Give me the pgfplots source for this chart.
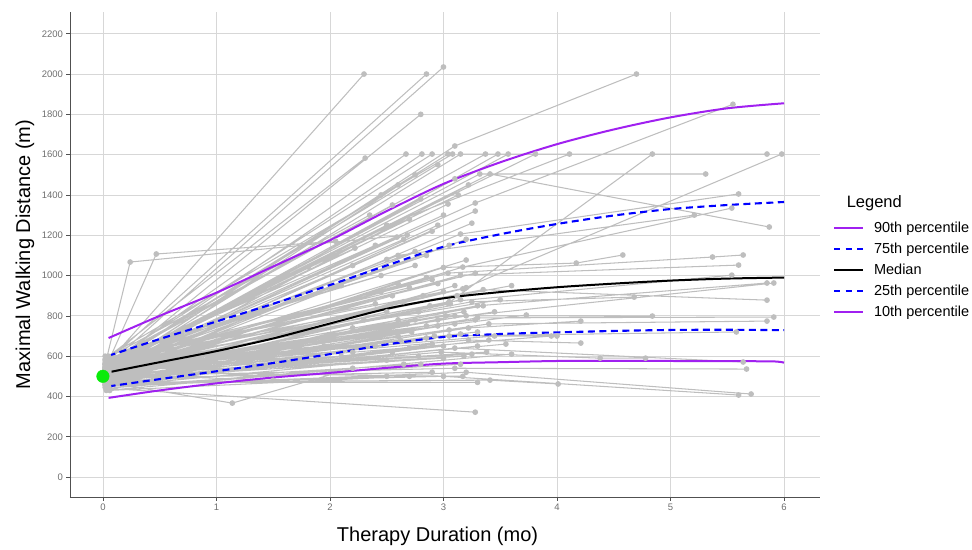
\documentclass[border=0pt]{standalone}
\usepackage{fontspec}
\setmainfont{Liberation Sans}
\usepackage{pgfplots}
\pgfplotsset{compat=1.18}
\usepackage{pgfplotstable}
\definecolor{spag}{RGB}{190,190,190}
\definecolor{gridc}{RGB}{215,215,215}
\definecolor{pctpurple}{RGB}{160,32,240}
\definecolor{ticklab}{RGB}{110,110,110}
\definecolor{axisline}{RGB}{80,80,80}
\definecolor{startgreen}{RGB}{10,235,10}

\pgfplotstableread{
x y
0.03 560
2.30 2000
nan nan
0.05 580
2.85 2000
nan nan
0.02 545
3.00 2035
nan nan
0.04 540
2.80 1800
nan nan
0.03 590
2.31 1583
nan nan
0.05 560
2.67 1603
nan nan
0.02 530
2.81 1603
nan nan
0.06 575
2.90 1603
nan nan
0.03 550
3.04 1603
nan nan
0.05 600
3.08 1603
nan nan
0.04 520
3.15 1603
5.85 1603
nan nan
0.02 560
3.37 1603
nan nan
0.05 510
3.48 1603
nan nan
0.03 535
3.57 1603
nan nan
0.06 565
3.81 1603
nan nan
0.04 520
3.10 1643
4.70 2000
nan nan
0.05 555
3.41 1504
5.87 1241
nan nan
0.02 545
3.32 1504
5.31 1504
nan nan
0.03 530
3.28 1360
5.55 1850
nan nan
0.04 525
3.04 862
4.84 1603
nan nan
0.05 560
2.50 1250
4.11 1603
nan nan
0.03 520
3.17 934
5.98 1603
nan nan
0.04 565
3.13 1400
nan nan
0.02 540
3.04 1355
nan nan
0.05 510
3.28 1320
nan nan
0.03 500
3.15 1206
5.60 1405
nan nan
0.05 515
3.17 1042
5.54 1335
nan nan
0.04 540
2.60 1100
5.21 1300
nan nan
0.02 560
0.24 1067
2.68 1201
nan nan
0.05 575
0.47 1107
2.05 1170
nan nan
0.03 540
1.81 1042
nan nan
0.05 560
2.22 1136
nan nan
0.02 520
2.59 1191
nan nan
0.04 590
2.45 1000
nan nan
0.03 500
2.10 950
nan nan
0.02 550
2.70 1280
nan nan
0.04 500
2.95 1250
nan nan
0.05 540
3.20 1180
nan nan
0.03 520
3.04 1012
5.37 1092
5.64 1102
nan nan
0.02 510
3.15 1002
5.60 1052
nan nan
0.05 560
3.28 1012
nan nan
0.04 530
3.20 1077
nan nan
0.03 555
2.85 1100
nan nan
0.02 490
3.00 1040
4.17 1062
4.58 1102
nan nan
0.05 545
3.05 870
5.54 1002
nan nan
0.04 520
3.30 850
5.85 963
nan nan
0.03 500
3.20 800
5.91 963
nan nan
0.06 580
2.90 980
nan nan
0.02 600
2.75 1050
nan nan
0.04 470
3.10 950
nan nan
0.03 510
2.55 900
nan nan
0.05 480
2.65 870
nan nan
0.02 570
2.70 940
nan nan
0.04 530
2.78 820
nan nan
0.03 495
2.82 900
nan nan
0.05 550
2.88 850
nan nan
0.02 460
2.95 780
nan nan
0.04 585
3.00 920
nan nan
0.03 505
3.02 800
4.84 799
nan nan
0.05 525
3.06 860
nan nan
0.02 480
3.10 760
nan nan
0.04 560
3.12 900
nan nan
0.03 515
3.18 820
nan nan
0.05 470
3.22 740
4.21 774
nan nan
0.02 535
3.25 870
4.68 893
nan nan
0.04 500
3.30 790
5.91 794
nan nan
0.03 575
3.35 930
5.85 878
nan nan
0.05 490
3.40 760
5.85 774
nan nan
0.02 455
2.60 780
nan nan
0.04 540
2.68 760
nan nan
0.03 465
2.72 720
nan nan
0.05 520
2.85 750
nan nan
0.02 485
2.92 700
nan nan
0.04 510
3.05 730
nan nan
0.03 445
3.15 710
nan nan
0.05 555
3.28 780
nan nan
0.02 495
2.50 820
nan nan
0.04 590
2.40 860
nan nan
0.03 475
2.30 780
nan nan
0.05 450
2.20 740
nan nan
0.02 530
3.45 820
nan nan
0.04 565
3.50 880
nan nan
0.03 470
2.40 650
nan nan
0.05 500
2.55 620
nan nan
0.02 520
2.62 680
nan nan
0.04 455
2.70 640
nan nan
0.03 490
2.78 600
nan nan
0.05 540
2.85 690
nan nan
0.02 445
2.90 660
nan nan
0.04 480
2.98 620
4.38 590
4.78 590
nan nan
0.03 510
3.05 700
5.58 720
nan nan
0.05 465
3.10 640
5.64 571
nan nan
0.02 495
3.18 600
nan nan
0.04 525
3.22 680
4.21 665
nan nan
0.03 460
3.30 650
nan nan
0.05 505
3.38 620
nan nan
0.02 540
3.45 700
4.00 700
nan nan
0.04 450
2.50 580
nan nan
0.03 440
2.65 560
nan nan
0.05 470
2.80 560
nan nan
0.02 485
3.00 590
nan nan
0.04 450
3.15 560
nan nan
0.03 500
2.20 620
nan nan
0.05 520
2.10 600
nan nan
0.02 560
1.95 650
nan nan
0.04 480
3.55 660
nan nan
0.03 430
3.60 610
nan nan
0.03 470
1.14 367
2.20 540
nan nan
0.05 440
3.28 322
nan nan
0.04 470
3.41 481
4.01 462
nan nan
0.02 460
3.00 500
5.60 407
nan nan
0.03 450
3.20 520
5.71 412
nan nan
0.05 500
3.10 540
5.67 536
nan nan
0.04 490
2.90 520
nan nan
0.02 470
3.30 470
nan nan
0.06 430
2.70 500
nan nan
0.03 520
3.17 500
nan nan
0.04 455
2.50 500
nan nan
0.05 510
1.50 480
nan nan
0.03 540
3.73 804
nan nan
0.04 520
3.95 700
nan nan
0.02 580
3.60 950
nan nan
0.03 520
2.45 1400
nan nan
0.05 550
2.60 1450
nan nan
0.02 500
2.75 1500
nan nan
0.04 560
2.95 1550
nan nan
0.03 530
3.10 1480
nan nan
0.05 580
2.55 1350
nan nan
0.02 510
2.80 1380
nan nan
0.04 540
3.00 1300
nan nan
0.03 490
3.22 1450
nan nan
0.05 570
2.40 1150
nan nan
0.02 535
2.65 1180
nan nan
0.04 515
2.90 1220
nan nan
0.03 555
3.05 1150
nan nan
0.05 500
3.25 1260
nan nan
0.02 585
2.35 1300
nan nan
0.04 545
2.20 1050
nan nan
0.03 525
2.50 1080
nan nan
0.05 560
2.75 1120
nan nan
0.02 505
2.60 960
nan nan
0.04 545
2.85 990
nan nan
0.03 480
3.15 880
nan nan
0.05 530
2.45 920
nan nan
0.02 560
2.95 960
nan nan
0.04 500
3.35 850
nan nan
0.03 540
3.20 940
nan nan
0.05 475
2.75 780
nan nan
0.02 500
2.95 750
nan nan
0.04 460
3.10 800
nan nan
0.03 520
3.30 720
nan nan
0.05 490
2.60 700
nan nan
0.02 470
3.40 680
nan nan
0.04 530
2.40 700
nan nan
0.03 455
3.00 650
nan nan
0.05 505
3.25 610
}\spagtable

\begin{document}
\begin{tikzpicture}
\useasboundingbox (-70pt,-52pt) rectangle (902pt,497pt);
\begin{axis}[
  scale only axis,
  width=750pt, height=485pt,
  xmin=-0.29, xmax=6.317,
  ymin=-99, ymax=2308,
  clip=false,
  axis x line*=bottom, axis y line*=left,
  axis line style={axisline, line width=0.8pt},
  xtick={0,1,2,3,4,5,6},
  ytick={0,200,400,600,800,1000,1200,1400,1600,1800,2000,2200},
  grid=major,
  major grid style={gridc, line width=0.8pt},
  tick style={axisline, line width=0.6pt},
  tick align=outside,
  major tick length=3.5pt,
  ticklabel style={font=\fontsize{9.5}{11}\selectfont, text=ticklab},
  /pgf/number format/assume math mode=true,
  /pgf/number format/1000 sep={},
  xlabel={Therapy Duration (mo)},
  ylabel={Maximal Walking Distance (m)},
  label style={font=\fontsize{20}{24}\selectfont},
  xlabel style={at={(axis description cs:0.49,-0.082)}, anchor=center},
  ylabel style={at={(axis description cs:-0.06,0.5)}, anchor=center},
  unbounded coords=jump,
  legend style={at={(axis description cs:1.013,0.575)}, anchor=north west,
    draw=white, fill=white, font=\fontsize{14.5}{17}\selectfont,
    row sep=4.8pt},
  legend cell align=left,
]
\addplot[spag, line width=1.05pt, mark=*, mark size=2.3pt,
  mark options={fill=spag, draw=spag}, forget plot] table[x=x, y=y] {\spagtable};

\addplot[pctpurple, line width=2pt, smooth,
  legend image code/.code={\draw[pctpurple, line width=2pt] (0pt,0pt) -- (29pt,0pt); \path (37pt,0pt);}] coordinates {
(0.05,690) (0.5,800) (1,915) (1.5,1045) (2,1175) (2.5,1320) (3,1455) (3.5,1562) (4,1652) (4.5,1725) (5,1785) (5.5,1830) (6,1855)};
\addlegendentry{90th percentile}
\addplot[blue, line width=2.1pt, dash pattern=on 7pt off 4.5pt, smooth,
  legend image code/.code={\draw[blue, line width=2.1pt, dash pattern=on 6pt off 5.5pt] (0pt,0pt) -- (29pt,0pt); \path (37pt,0pt);}] coordinates {
(0.05,602) (0.5,685) (1,772) (1.5,860) (2,953) (2.5,1050) (3,1143) (3.5,1205) (4,1256) (4.5,1298) (5,1330) (5.5,1350) (6,1365)};
\addlegendentry{75th percentile}
\addplot[black, line width=2pt, smooth,
  legend image code/.code={\draw[black, line width=2pt] (0pt,0pt) -- (29pt,0pt); \path (37pt,0pt);}] coordinates {
(0.05,520) (0.5,570) (1,625) (1.5,688) (2,762) (2.5,835) (3,887) (3.5,918) (4,942) (4.5,960) (5,975) (5.5,985) (6,990)};
\addlegendentry{Median}
\addplot[blue, line width=2.1pt, dash pattern=on 7pt off 4.5pt, smooth,
  legend image code/.code={\draw[blue, line width=2.1pt, dash pattern=on 6pt off 5.5pt] (0pt,0pt) -- (29pt,0pt); \path (37pt,0pt);}] coordinates {
(0.05,450) (0.5,486) (1,525) (1.5,566) (2,610) (2.5,658) (3,695) (3.5,710) (4,718) (4.5,725) (5,730) (5.5,731) (6,729)};
\addlegendentry{25th percentile}
\addplot[pctpurple, line width=2pt, smooth,
  legend image code/.code={\draw[pctpurple, line width=2pt] (0pt,0pt) -- (29pt,0pt); \path (37pt,0pt);}] coordinates {
(0.05,393) (0.5,430) (1,465) (1.5,494) (2,517) (2.5,542) (3,563) (3.5,570) (4,576) (4.5,577) (5,576) (5.5,575) (5.9,574) (6,568)};
\addlegendentry{10th percentile}

\addplot[only marks, mark=*, mark size=6.3pt, mark options={fill=startgreen, draw=startgreen}, forget plot] coordinates {(0,500)};

\node[anchor=west, font=\fontsize{16.5}{20}\selectfont] at (axis description cs:1.031,0.606) {Legend};
\end{axis}
\end{tikzpicture}
\end{document}
